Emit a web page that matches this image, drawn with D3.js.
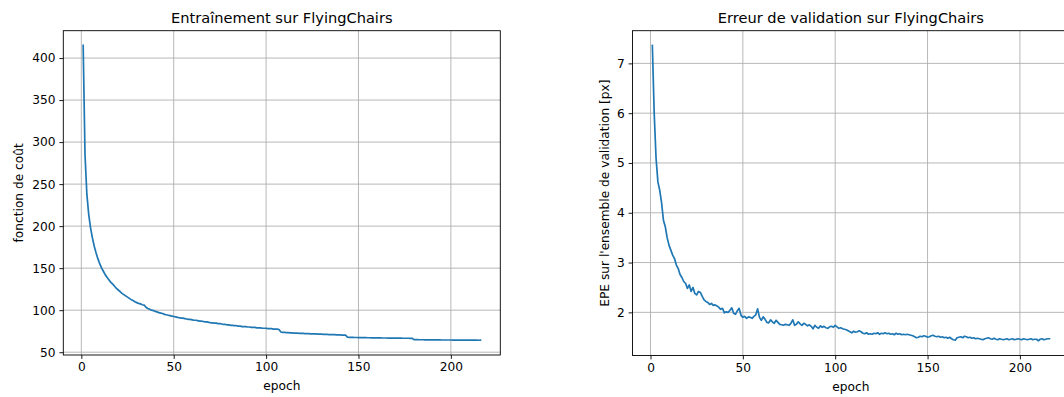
<!DOCTYPE html>
<html>
<head>
<meta charset="utf-8">
<script src="https://cdn.jsdelivr.net/npm/d3@7"></script>
<style>
  html, body { margin: 0; padding: 0; background: #fff; overflow: hidden; }
  svg { display: block; font-family: "DejaVu Sans", sans-serif; }
</style>
</head>
<body>
<svg id="fig" width="1064" height="397"></svg>
<script>
// Training loss per epoch (epochs 1..216)
const trainLoss = [
  415, 285, 238, 214, 198, 186, 176, 168, 161, 155, 150, 146, 142, 139, 136,
  133, 131, 128.5, 126, 124, 122, 120, 118.5, 117, 115.5, 114, 112.5, 111.5, 110, 109,
  108, 107.5, 106.5, 106, 103.5, 102, 101, 100, 99.5, 98.5, 98, 97, 96.5, 96, 95,
  94.5, 94, 93.5, 93, 92.5, 92, 91.5, 91, 90.5, 90.5, 90, 89.5, 89, 89, 88.5,
  88, 88, 87.5, 87, 87, 86.5, 86, 86, 85.5, 85, 85, 84.5, 84.5, 84, 84,
  83.5, 83, 83, 82.5, 82.5, 82, 82, 81.5, 81.5, 81, 81, 80.5, 80.5, 80.5, 80,
  80, 79.5, 79.5, 79.5, 79, 79, 79, 78.5, 78.5, 78.5, 78, 78, 78, 77.5, 77.5,
  77.5, 77,
  74, 73.5, 73.5, 73.3, 73.2, 73, 73, 72.8, 72.7, 72.6, 72.5, 72.4, 72.3,
  72.2, 72.1, 72, 71.9, 71.8, 71.7, 71.7, 71.6, 71.5, 71.4, 71.3, 71.2, 71.1, 71, 71,
  70.9, 70.8, 70.7, 70.6, 70.5, 70.4, 70.3, 70.2,
  68, 67.7, 67.6, 67.6, 67.5, 67.5, 67.4, 67.4, 67.3, 67.3, 67.3, 67.2, 67.2, 67.1, 67.1, 67.1, 67.0,
  67.0, 67.0, 66.9, 66.9, 66.9, 66.8, 66.8, 66.8, 66.8, 66.7, 66.7, 66.7, 66.7, 66.6, 66.6, 66.6, 66.6, 66.5, 66.5,
  65.0,
  64.9, 64.9, 64.8, 64.8, 64.8, 64.7, 64.7, 64.7, 64.7, 64.6, 64.6, 64.6, 64.6, 64.6, 64.5, 64.5, 64.5, 64.5,
  64.5, 64.5, 64.4, 64.4, 64.4, 64.4, 64.4, 64.4, 64.4, 64.3, 64.3, 64.3, 64.3, 64.3, 64.3, 64.3, 64.2, 64.3
];

// Validation end-point error per epoch (epochs 1..216)
const valEPE = [
  7.36, 6.0, 5.1, 4.62, 4.45, 4.2, 3.85, 3.72, 3.5, 3.35,
  3.25, 3.15, 3.08, 2.95, 2.88, 2.76, 2.70, 2.62, 2.58, 2.48,
  2.55, 2.42, 2.50, 2.38, 2.35, 2.42, 2.40, 2.32, 2.25, 2.22,
  2.20, 2.16, 2.18, 2.14, 2.15, 2.13, 2.10, 2.06, 2.08, 1.99,
  2.01, 2.00, 2.04, 2.09, 1.98, 1.96, 2.03, 2.08, 1.94, 1.90,
  1.92, 1.88, 1.91, 1.90, 1.88, 1.92, 1.95, 2.07, 1.90, 1.84,
  1.91, 1.86, 1.80, 1.79, 1.85, 1.81, 1.78, 1.84, 1.80, 1.76,
  1.75, 1.74, 1.76, 1.75, 1.74, 1.78, 1.85, 1.74, 1.76, 1.81,
  1.77, 1.74, 1.78, 1.76, 1.73, 1.75, 1.72, 1.67, 1.74, 1.70,
  1.68, 1.73, 1.70, 1.72, 1.69, 1.68, 1.71, 1.72, 1.70, 1.74,
  1.71, 1.68, 1.69, 1.67, 1.66, 1.65, 1.63, 1.61, 1.59, 1.62,
  1.60, 1.61, 1.63, 1.61, 1.58, 1.57, 1.59, 1.56, 1.57, 1.56,
  1.58, 1.57, 1.59, 1.56, 1.58, 1.57, 1.59, 1.57, 1.58, 1.56,
  1.57, 1.55, 1.58, 1.56, 1.57, 1.55, 1.56, 1.55, 1.56, 1.55,
  1.54, 1.53, 1.51, 1.49, 1.50, 1.52, 1.51, 1.53, 1.52, 1.50,
  1.51, 1.53, 1.54, 1.52, 1.51, 1.52, 1.50, 1.51, 1.49, 1.50,
  1.48, 1.50, 1.47, 1.45, 1.44, 1.49, 1.50, 1.51, 1.49, 1.52,
  1.51, 1.49, 1.50, 1.48, 1.49, 1.47, 1.48, 1.47, 1.46, 1.45,
  1.47, 1.48, 1.49, 1.47, 1.46, 1.48, 1.46, 1.45, 1.47, 1.46,
  1.45, 1.46, 1.47, 1.45, 1.46, 1.47, 1.45, 1.46, 1.47, 1.46,
  1.45, 1.47, 1.46, 1.45, 1.46, 1.47, 1.45, 1.46, 1.46, 1.43,
  1.46, 1.47, 1.45, 1.46, 1.47, 1.47
];

const xTicks = [0, 50, 100, 150, 200];
const trainTicks = [50, 100, 150, 200, 250, 300, 350, 400];
const valTicks = [2, 3, 4, 5, 6, 7];

const titles = ["Entraînement sur FlyingChairs", "Erreur de validation sur FlyingChairs"];
const xLabel = "epoch";
const yLabels = ["fonction de coût", "EPE sur l'ensemble de validation [px]"];

const svg = d3.select("#fig");

// Autoscale with 5% padding on each side
function padded(ext) {
  const d = ext[1] - ext[0];
  return [ext[0] - 0.05 * d, ext[1] + 0.05 * d];
}

function panel(values, box, yTicks, title, yLabel) {
  const data = values.map((v, i) => ({ epoch: i + 1, v }));
  const x = d3.scaleLinear().domain(padded(d3.extent(data, d => d.epoch))).range([box.l, box.r]);
  const y = d3.scaleLinear().domain(padded(d3.extent(data, d => d.v))).range([box.b, box.t]);

  const g = svg.append("g");

  // grid
  g.append("g").selectAll("line").data(xTicks).join("line")
    .attr("x1", d => x(d)).attr("x2", d => x(d))
    .attr("y1", box.t).attr("y2", box.b)
    .attr("stroke", "#b0b0b0").attr("stroke-width", 0.9);
  g.append("g").selectAll("line").data(yTicks).join("line")
    .attr("y1", d => y(d)).attr("y2", d => y(d))
    .attr("x1", box.l).attr("x2", box.r)
    .attr("stroke", "#b0b0b0").attr("stroke-width", 0.9);

  // series
  g.append("path").datum(data)
    .attr("fill", "none")
    .attr("stroke", "#1f77b4")
    .attr("stroke-width", 1.7)
    .attr("stroke-linejoin", "round")
    .attr("stroke-linecap", "square")
    .attr("d", d3.line().x(d => x(d.epoch)).y(d => y(d.v)));

  // axes
  const xa = g.append("g").attr("transform", `translate(0,${box.b})`)
    .call(d3.axisBottom(x).tickValues(xTicks).tickSize(3.9).tickPadding(3.9).tickFormat(d3.format("d")));
  const ya = g.append("g").attr("transform", `translate(${box.l},0)`)
    .call(d3.axisLeft(y).tickValues(yTicks).tickSize(3.9).tickPadding(3.9).tickFormat(d3.format("d")));
  [xa, ya].forEach(a => {
    a.select(".domain").remove();
    a.selectAll("line").attr("stroke", "#000").attr("stroke-width", 0.9);
    a.selectAll("text").attr("fill", "#000").style("font-family", "DejaVu Sans").style("font-size", "12.2px");
  });

  // frame
  g.append("rect")
    .attr("x", box.l).attr("y", box.t)
    .attr("width", box.r - box.l).attr("height", box.b - box.t)
    .attr("fill", "none").attr("stroke", "#000").attr("stroke-width", 0.9);

  // labels
  g.append("text")
    .attr("x", (box.l + box.r) / 2).attr("y", box.t - 8)
    .attr("text-anchor", "middle").style("font-size", "14.6px").text(title);
  g.append("text")
    .attr("x", (box.l + box.r) / 2).attr("y", box.b + 35)
    .attr("text-anchor", "middle").style("font-size", "12.2px").text(xLabel);
  g.append("text")
    .attr("transform", `translate(${box.yl},${(box.t + box.b) / 2}) rotate(-90)`)
    .attr("text-anchor", "middle").style("font-size", "12.2px").text(yLabel);
}

panel(trainLoss, { l: 63.3, r: 500.3, t: 30.7, b: 355, yl: 23 }, trainTicks, titles[0], yLabels[0]);
panel(valEPE, { l: 632.5, r: 1069.3, t: 30.7, b: 355.5, yl: 609 }, valTicks, titles[1], yLabels[1]);
</script>
</body>
</html>
